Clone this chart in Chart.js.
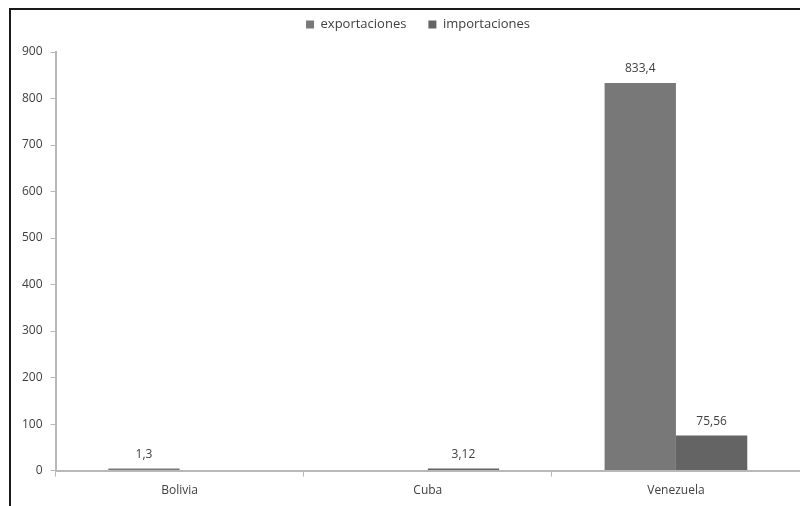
<!DOCTYPE html>
<html>
<head>
<meta charset="utf-8">
<script src="https://cdn.jsdelivr.net/npm/chart.js@4"></script>
<style>
    html, body { margin: 0; padding: 0; background: #fff; }
    #wrap { position: relative; width: 800px; height: 506px; overflow: hidden; }
    #frame {
        position: absolute; left: 9px; top: 8px; right: -5px; bottom: -5px;
        border-top: 2px solid #1a1a1a; border-left: 2px solid #1a1a1a;
    }
    #myChart { position: absolute; left: 0; top: 0; }
</style>
</head>
<body>
<div id="wrap">
    <div id="frame"></div>
    <canvas id="myChart" width="800" height="506"></canvas>
</div>
<script>
const categories = ["Bolivia", "Cuba", "Venezuela"];
// null = no bar drawn for that country
const exportaciones = [1.3, null, 833.4];
const importaciones = [null, 3.12, 75.56];

const textColor = "#404040";
const axisColor = "#b8b8b8";
const fontFamily = "'Open Sans'";

// value labels above the bars, decimal comma like the original
const valueLabels = {
    id: "valueLabels",
    afterDatasetsDraw(chart) {
        const ctx = chart.ctx;
        ctx.save();
        ctx.font = "12px " + fontFamily;
        ctx.fillStyle = textColor;
        ctx.textAlign = "center";
        ctx.textBaseline = "bottom";
        chart.data.datasets.forEach((ds, i) => {
            chart.getDatasetMeta(i).data.forEach((bar, j) => {
                const v = ds.data[j];
                if (v == null) return;
                ctx.fillText(String(v).replace(".", ","), bar.x, bar.y - 8);
            });
        });
        ctx.restore();
    }
};

// legend sits a bit higher and right of where chart.js centres it
const legendNudge = {
    id: "legendNudge",
    afterLayout(chart) {
        const lg = chart.legend;
        lg.left += 11; lg.right += 11;
        lg.top -= 11; lg.bottom -= 11;
    }
};

new Chart(document.getElementById("myChart"), {
    type: "bar",
    data: {
        labels: categories,
        datasets: [
            {label: "exportaciones", data: exportaciones, backgroundColor: "#787878"},
            {label: "importaciones", data: importaciones, backgroundColor: "#646464"}
        ]
    },
    options: {
        responsive: false,
        animation: false,
        layout: {padding: {left: 14, right: 0, top: 7, bottom: 1}},
        datasets: {
            bar: {categoryPercentage: 0.575, barPercentage: 1.0, minBarLength: 2}
        },
        plugins: {
            legend: {
                position: "top",
                labels: {
                    boxWidth: 8, boxHeight: 8, padding: 22,
                    color: textColor,
                    font: {family: fontFamily, size: 13}
                }
            },
            tooltip: {enabled: false}
        },
        scales: {
            x: {
                grid: {
                    display: true, offset: true, drawOnChartArea: false,
                    drawTicks: true, tickLength: 6, color: axisColor
                },
                border: {color: axisColor, width: 2},
                ticks: {color: textColor, font: {family: fontFamily, size: 12}, padding: 7}
            },
            y: {
                min: 0, max: 900,
                grid: {
                    display: true, drawOnChartArea: false,
                    drawTicks: true, tickLength: 5, color: axisColor
                },
                border: {color: axisColor, width: 2},
                ticks: {stepSize: 100, color: textColor, font: {family: fontFamily, size: 12}, padding: 8}
            }
        }
    },
    plugins: [valueLabels, legendNudge]
});
</script>
</body>
</html>
